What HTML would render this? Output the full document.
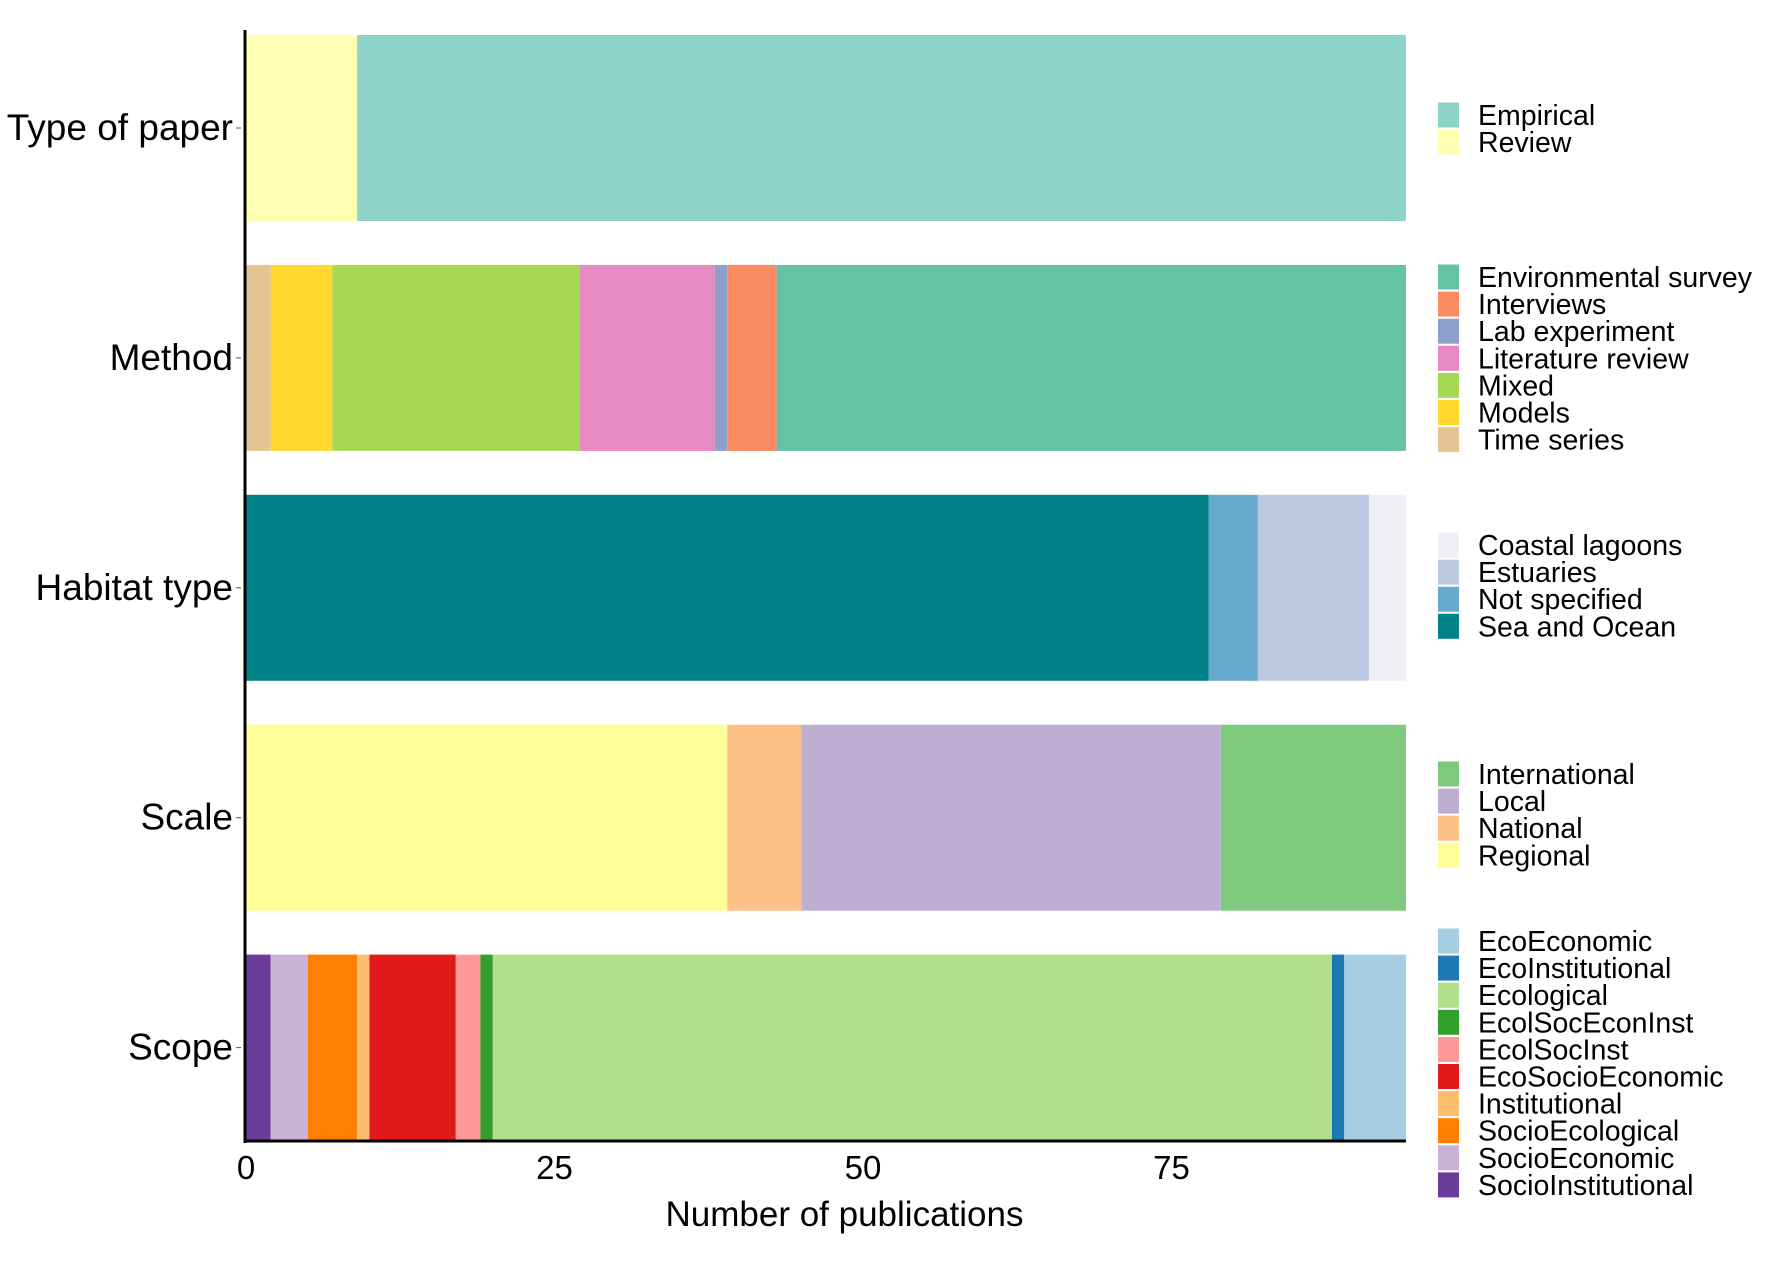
<!DOCTYPE html>
<html><head><meta charset="utf-8"><style>
html,body{margin:0;padding:0;background:#fff;}
svg{display:block;font-family:"Liberation Sans",sans-serif;}
</style></head><body>
<svg id="chart" width="1772" height="1266"></svg>
<script>
const categories = ["Type of paper","Method","Habitat type","Scale","Scope"];
const typeLabels = ["Review","Empirical"];
const typeValues = [9,85];
const typeColors = ["#ffffb3","#8dd3c7"];
const methodLabels = ["Time series","Models","Mixed","Literature review","Lab experiment","Interviews","Environmental survey"];
const methodValues = [2,5,20,11,1,4,51];
const methodColors = ["#e5c494","#ffd92f","#a6d854","#e78ac3","#8da0cb","#fc8d62","#66c2a5"];
const habitatLabels = ["Sea and Ocean","Not specified","Estuaries","Coastal lagoons"];
const habitatValues = [78,4,9,3];
const habitatColors = ["#028189","#67a9cf","#bdc9e1","#f1eef6"];
const scaleLabels = ["Regional","National","Local","International"];
const scaleValues = [39,6,34,15];
const scaleColors = ["#ffff99","#fdc086","#beaed4","#7fc97f"];
const scopeLabels = ["SocioInstitutional","SocioEconomic","SocioEcological","Institutional","EcoSocioEconomic","EcolSocInst","EcolSocEconInst","Ecological","EcoInstitutional","EcoEconomic"];
const scopeValues = [2,3,4,1,7,2,1,68,1,5];
const scopeColors = ["#6a3d9a","#cab2d6","#ff7f00","#fdbf6f","#e31a1c","#fb9a99","#33a02c","#b2df8a","#1f78b4","#a6cee3"];
const xTicks = [0,25,50,75];

const groups = [
 {labels:typeLabels,values:typeValues,colors:typeColors,legendY:115},
 {labels:methodLabels,values:methodValues,colors:methodColors,legendY:277},
 {labels:habitatLabels,values:habitatValues,colors:habitatColors,legendY:545},
 {labels:scaleLabels,values:scaleValues,colors:scaleColors,legendY:774},
 {labels:scopeLabels,values:scopeValues,colors:scopeColors,legendY:941}
];
const NS="http://www.w3.org/2000/svg";
const svg=document.getElementById('chart');
const x0=246, pxPerUnit=12.34;
const xScale=v=>x0+v*pxPerUnit;
const yCenter=i=>128+i*229.9;
const barH=186;
function mk(tag,attrs,parent){const e=document.createElementNS(NS,tag);for(const k in attrs)e.setAttribute(k,attrs[k]);(parent||svg).appendChild(e);return e;}

groups.forEach((g,i)=>{
  let cum=0;
  const yc=yCenter(i);
  g.values.forEach((v,j)=>{
    const r=mk('rect',{x:xScale(cum),y:yc-barH/2,width:v*pxPerUnit,height:barH,fill:g.colors[j]});
    
    
    cum+=v;
  });
  const t=mk('text',{x:233,y:yc+12,'text-anchor':'end','font-size':37,fill:'#000'});
  t.textContent=categories[i];
  
  
  const tk=mk('line',{x1:236,x2:241,y1:yc,y2:yc,stroke:'#555','stroke-width':1});
  
  
  const order=g.labels.map((_,j)=>j).reverse();
  order.forEach((j,k)=>{
    const ly=g.legendY+k*27.1;
    const sq=mk('rect',{x:1438,y:ly-12.5,width:21,height:25,fill:g.colors[j]});
    
    
    const lt=mk('text',{x:1478,y:ly+10,'font-size':28.5,fill:'#000'});
    lt.textContent=g.labels[j];
    
    
  });
});
const ya=mk('line',{x1:245,x2:245,y1:30,y2:1143,stroke:'#000','stroke-width':3});


const xa=mk('line',{x1:244,x2:xScale(94),y1:1141,y2:1141,stroke:'#000','stroke-width':3});


xTicks.forEach(v=>{
  const t=mk('text',{x:xScale(v),y:1179,'text-anchor':'middle','font-size':33,fill:'#000'});
  t.textContent=v;
  
  
});
const xt=mk('text',{x:xScale(48.5),y:1226,'text-anchor':'middle','font-size':35,fill:'#000'});
xt.textContent='Number of publications';


</script>
</body></html>
